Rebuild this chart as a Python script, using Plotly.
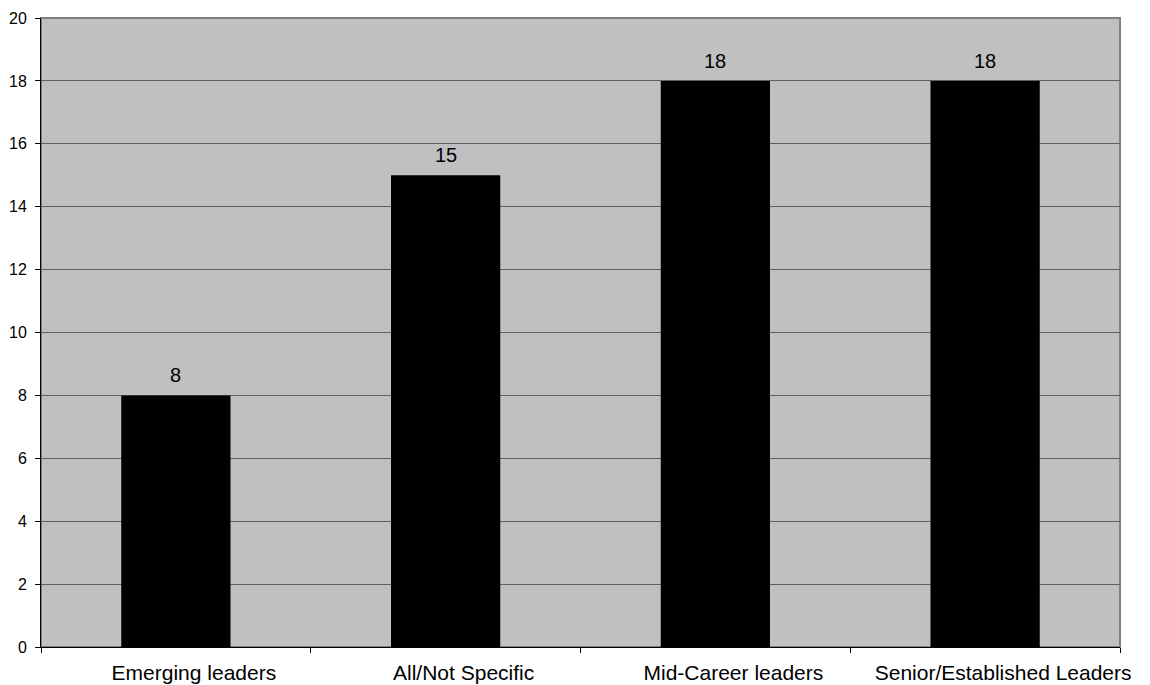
import plotly.graph_objects as go

categories = ["Emerging leaders", "All/Not Specific", "Mid-Career leaders", "Senior/Established Leaders"]
values = [8, 15, 18, 18]

FONT = "Liberation Sans, Arial, sans-serif"

fig = go.Figure()
fig.add_trace(go.Bar(
    x=categories, y=values,
    marker=dict(color="black", line=dict(width=0)),
    width=0.405,
))

annotations = [
    dict(x=c, y=v, xref="x", yref="y", text=str(v), showarrow=False,
         yanchor="bottom", yshift=7, font=dict(family=FONT, size=20, color="black"))
    for c, v in zip(categories, values)
]

fig.update_layout(
    width=1150, height=685,
    margin=dict(l=41, r=30, t=18, b=38, autoexpand=False),
    paper_bgcolor="white",
    plot_bgcolor="#c0c0c0",
    showlegend=False,
    font=dict(family=FONT, color="black"),
    annotations=annotations,
    shapes=[dict(type="rect", xref="paper", yref="paper", x0=0, x1=1, y0=0, y1=1,
                 line=dict(color="#808080", width=2), layer="below")],
)
fig.update_xaxes(
    automargin=False,
    tickson="boundaries", ticks="outside", ticklen=5, tickcolor="black",
    showline=True, linecolor="black", linewidth=1,
    showgrid=False,
    tickfont=dict(family=FONT, size=21),
    ticklabelstandoff=7,
    ticklabelshift=18,
    range=[-0.5, 3.5],
)
fig.update_yaxes(
    automargin=False,
    range=[0, 20], dtick=2, ticks="outside", ticklen=5, tickcolor="black",
    showline=True, linecolor="black", linewidth=1,
    showgrid=True, gridcolor="#606060", gridwidth=1,
    zeroline=False,
    tickfont=dict(family=FONT, size=16),
    ticklabelstandoff=5,
)

fig.write_html("out.html")
